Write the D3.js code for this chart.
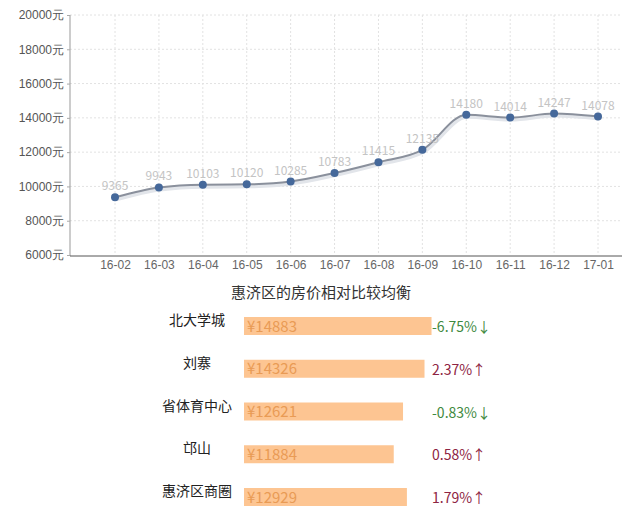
<!DOCTYPE html>
<html>
<head>
<meta charset="utf-8">
<script src="https://cdn.jsdelivr.net/npm/d3@7"></script>
<style>
  body { margin:0; background:#fff; }
  svg { font-family: "Noto Sans CJK SC", "Noto Sans", sans-serif; }
</style>
</head>
<body>
<div id="canvas"></div>
<script>
// line chart data
var months = ['16-02','16-03','16-04','16-05','16-06','16-07','16-08','16-09','16-10','16-11','16-12','17-01'];
var prices = [9365, 9943, 10103, 10120, 10285, 10783, 11415, 12135, 14180, 14014, 14247, 14078];
var yTicks = [6000, 8000, 10000, 12000, 14000, 16000, 18000, 20000];

// bar list data
var areas   = ['北大学城','刘寨','省体育中心','邙山','惠济区商圈'];
var areaPrice = [14883, 14326, 12621, 11884, 12929];
var changes = [-6.75, 2.37, -0.83, 0.58, 1.79];
var changeLabels = ['-6.75%↓','2.37%↑','-0.83%↓','0.58%↑','1.79%↑'];

var W = 640, H = 519;
var svg = d3.select('#canvas').append('svg')
    .attr('width', W).attr('height', H);

//scales for line chart
var x = d3.scalePoint().domain(months).range([115, 598]);
var y = d3.scaleLinear().domain([6000, 20000]).range([255, 15]);
var axisLeftX = 70, axisRightX = 622;

// grid
svg.append('g').selectAll('line.hg')
    .data(yTicks.slice(1))
    .enter().append('line')
    .attr('x1', axisLeftX).attr('x2', axisRightX)
    .attr('y1', function(d){ return y(d); }).attr('y2', function(d){ return y(d); })
    .attr('stroke', '#e2e2e2').attr('stroke-dasharray', '2,2');

svg.append('g').selectAll('line.vg')
    .data(months)
    .enter().append('line')
    .attr('x1', function(d){ return x(d); }).attr('x2', function(d){ return x(d); })
    .attr('y1', y(20000)).attr('y2', y(6000))
    .attr('stroke', '#e2e2e2').attr('stroke-dasharray', '2,2');

// y axis
var axisY = d3.axisLeft(y).tickValues(yTicks).tickSize(3)
    .tickFormat(function(d){ return d + '元'; });
var gy = svg.append('g')
    .attr('transform', 'translate(' + axisLeftX + ',0)')
    .call(axisY);
gy.select('.domain').attr('stroke', '#999').attr('d', 'M0,' + y(20000) + 'V' + (y(6000)+1));
gy.selectAll('.tick line').attr('stroke', '#aaa');
gy.selectAll('.tick text').attr('fill', '#555').style('font-size', '12px').attr('x', -6);

// x axis
var axisX = d3.axisBottom(x).tickSize(0).tickPadding(4);
var gx = svg.append('g')
    .attr('transform', 'translate(0,' + (y(6000)+1) + ')')
    .call(axisX);
gx.select('.domain').attr('stroke', '#555').attr('d', 'M' + axisLeftX + ',0H' + axisRightX);
gx.selectAll('.tick text').attr('fill', '#666').style('font-size', '12px');

// line
var line = d3.line()
    .x(function(d, i){ return x(months[i]); })
    .y(function(d){ return y(d); })
    .curve(d3.curveMonotoneX);

svg.append('path').datum(prices)
    .attr('d', line)
    .attr('fill', 'none')
    .attr('stroke', '#e2e5ea')
    .attr('stroke-width', 4)
    .attr('transform', 'translate(1,2)');

svg.append('path').datum(prices)
    .attr('d', line)
    .attr('fill', 'none')
    .attr('stroke', '#8a909c')
    .attr('stroke-width', 2);

svg.selectAll('circle.pt')
    .data(prices)
    .enter().append('circle')
    .attr('cx', function(d, i){ return x(months[i]); })
    .attr('cy', function(d){ return y(d); })
    .attr('r', 4)
    .attr('fill', '#45689a');

svg.selectAll('text.val')
    .data(prices)
    .enter().append('text')
    .attr('x', function(d, i){ return x(months[i]); })
    .attr('y', function(d){ return y(d) - 7; })
    .attr('text-anchor', 'middle')
    .attr('fill', '#c4c4c4')
    .style('font-size', '12px')
    .text(function(d){ return d; });

// title
svg.append('text')
    .attr('x', 321).attr('y', 298)
    .attr('text-anchor', 'middle')
    .attr('fill', '#333')
    .style('font-size', '15px')
    .text('惠济区的房价相对比较均衡');

// bar list
var barX = 244;
var bw = d3.scaleLinear().domain([0, 15000]).range([0, 189]);
var rowY = d3.scalePoint().domain(areas).range([326, 497]);
var barH = 18;

var rows = svg.selectAll('g.row')
    .data(areas)
    .enter().append('g')
    .attr('transform', function(d){ return 'translate(0,' + rowY(d) + ')'; });

rows.append('rect')
    .attr('x', barX)
    .attr('y', -barH/2)
    .attr('width', function(d, i){ return bw(areaPrice[i]); })
    .attr('height', barH)
    .attr('fill', '#fdc592');

rows.append('text')
    .attr('x', barX + 3)
    .attr('y', 5.5)
    .attr('fill', '#e99b55')
    .style('font-size', '15px')
    .text(function(d, i){ return '¥' + areaPrice[i]; });

rows.append('text')
    .attr('x', 197)
    .attr('y', -1)
    .attr('text-anchor', 'middle')
    .attr('fill', '#222')
    .style('font-size', '14px')
    .text(function(d){ return d; });

rows.append('text')
    .attr('x', 432)
    .attr('y', 6)
    .attr('fill', function(d, i){ return changes[i] < 0 ? '#3f8a3f' : '#8e2443'; })
    .style('font-size', '14px')
    .text(function(d, i){ return changeLabels[i]; });
</script>
</body>
</html>
